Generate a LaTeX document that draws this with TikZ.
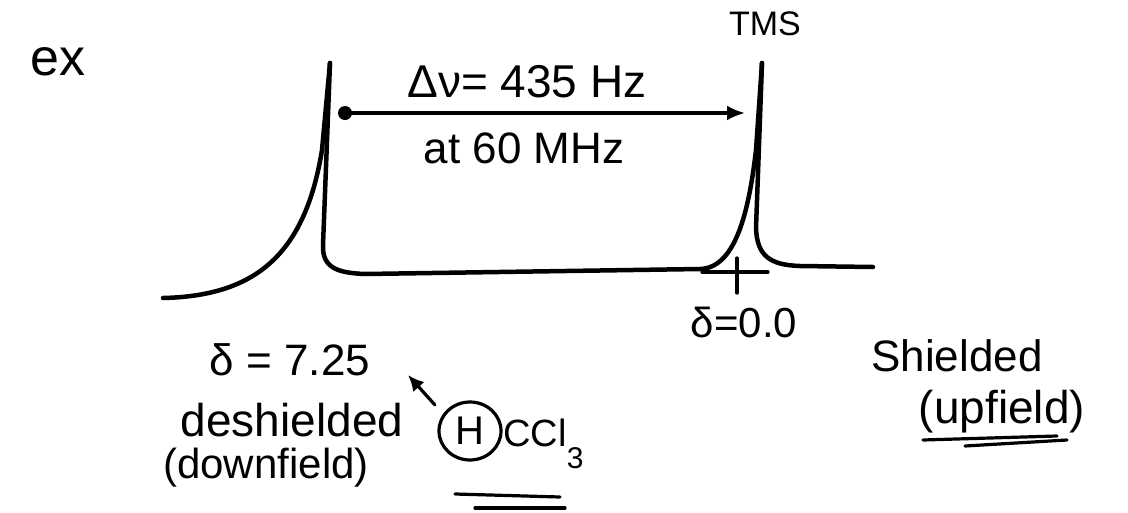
\documentclass[tikz,border=0pt]{standalone}
\usepackage{fontspec}
\setmainfont{Liberation Sans}
\usetikzlibrary{arrows.meta}
\tikzset{
  ink/.style={line width=4.5pt, line cap=round, line join=round, black},
  thin ink/.style={line width=3.2pt, line cap=round, line join=round, black},
  txt/.style={inner sep=0pt},
}
\newcommand{\fs}[1]{\fontsize{#1}{#1}\selectfont}
\begin{document}
\begin{tikzpicture}[x=1pt,y=-1pt]
\useasboundingbox (0,0) rectangle (1128,512);
\fill[white] (0,0) rectangle (1128,512);

% ex
\node[txt, font=\fs{52}] (ex) at (58,62) {ex};

% spectrum
\draw[ink] (163,298) .. controls (255,296) and (305,255) .. (322,150) -- (330,63);
\draw[ink] (330,63) -- (323,245) .. controls (322,268) and (338,273) .. (365,274)
  -- (700,269) .. controls (733,268) and (748,220) .. (756,150) -- (762,63);
\draw[ink] (762,63) -- (756,228) .. controls (757,256) and (770,265) .. (800,266) -- (873,267);

% tick at delta = 0
\draw[thin ink] (702,272) -- (768,272);
\draw[thin ink] (737,258) -- (737,293);

% arrow
\coordinate (aL) at (345,113);
\coordinate (aR) at (745,113);
\fill (aL) circle (7);
\draw[thin ink, -{Latex[length=18pt,width=15pt]}] (aL) -- (aR);

\node[txt, font=\fs{46}] (dnu) at (527,82) {Δν= 435 Hz};
\node[txt, font=\fs{44}] (mhz) at (524,148) {at 60 MHz};
\node[txt, font=\fs{34}] (tms) at (765,24) {TMS};
\node[txt, font=\fs{42}] (d0) at (744,322) {δ=0.0};
\node[txt, font=\fs{44}] (d725) at (290,360) {δ = 7.25};

\node[txt, font=\fs{46}] (desh) at (292,420) {deshielded};
\node[txt, font=\fs{42}] (down) at (266,468) {(downfield)};

\node[txt, font=\fs{44}] (sh) at (957,356) {Shielded};
\node[txt, font=\fs{46}] (up) at (1002,412) {(upfield)};
\draw[thin ink] (923,440) -- (1057,436);
\draw[thin ink] (965,446) -- (1067,440);

% HCCl3
\node[txt, font=\fs{40}] (h) at (470,431) {H};
\draw[thin ink] (h.center) ellipse (31 and 29);
\node[txt, font=\fs{38}, anchor=west] (ccl) at (503,433) {CCl};
\node[txt, font=\fs{30}, anchor=north west] (three) at (ccl.south east) {3};
\draw[thin ink] (455,494) -- (560,497);
\draw[thin ink] (475,508) -- (565,508);

\coordinate (sA) at (435,405);
\coordinate (sB) at (408,375);
\draw[thin ink, -{Latex[length=16pt,width=15pt]}] (sA) -- (sB);
\end{tikzpicture}
\end{document}
